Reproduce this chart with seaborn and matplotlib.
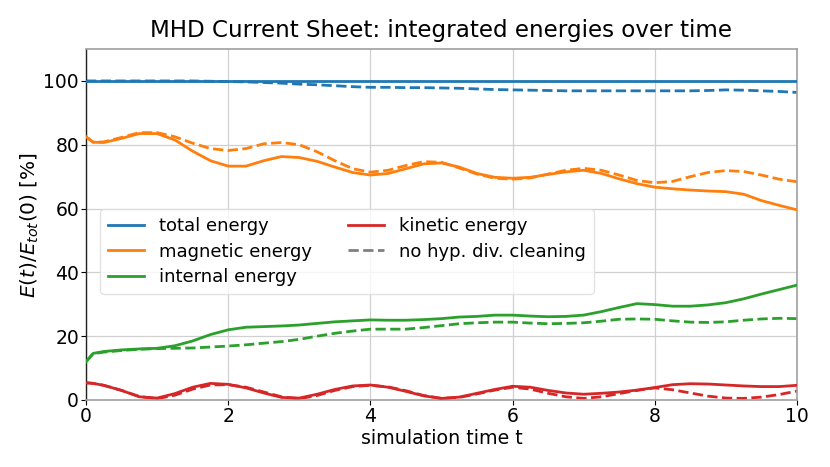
import numpy as np
import pandas as pd
import matplotlib
matplotlib.use("Agg")
import matplotlib.pyplot as plt
from matplotlib.lines import Line2D
import seaborn as sns

# ---------------- data ----------------
t = [0, 0.1, 0.25, 0.5, 0.75, 1.0, 1.25, 1.5, 1.75, 2.0, 2.25, 2.5, 2.75, 3.0,
     3.25, 3.5, 3.75, 4.0, 4.25, 4.5, 4.75, 5.0, 5.25, 5.5, 5.75, 6.0, 6.25,
     6.5, 6.75, 7.0, 7.25, 7.5, 7.75, 8.0, 8.25, 8.5, 8.75, 9.0, 9.25, 9.5,
     9.75, 10.0]

total = [100.0] * 42
total_nc = [100.0, 100.0, 100.0, 100.0, 100.0, 100.0, 100.0, 100.0, 99.9, 99.8,
            99.7, 99.5, 99.3, 99.0, 98.8, 98.5, 98.2, 98.0, 98.0, 97.9, 97.9,
            97.8, 97.7, 97.5, 97.3, 97.2, 97.1, 97.0, 96.9, 96.9, 96.9, 96.9,
            96.9, 96.9, 96.9, 96.9, 97.0, 97.2, 97.1, 96.9, 96.7, 96.4]

magnetic = [82.5, 80.8, 80.7, 82.0, 83.5, 83.5, 81.5, 78.0, 75.0, 73.3, 73.3,
            75.0, 76.3, 76.0, 74.8, 73.0, 71.3, 70.5, 71.0, 72.5, 74.0, 74.3,
            73.0, 71.0, 69.8, 69.5, 69.8, 70.7, 71.5, 72.0, 71.0, 69.3, 67.8,
            66.7, 66.2, 65.8, 65.5, 65.3, 64.5, 62.5, 61.0, 59.6]
magnetic_nc = [82.5, 80.8, 80.9, 82.3, 83.8, 83.8, 82.5, 80.5, 78.8, 78.2, 78.8,
               80.3, 80.7, 80.0, 77.8, 75.0, 72.5, 71.4, 72.0, 73.5, 74.7, 74.5,
               72.7, 70.8, 69.5, 69.2, 69.6, 70.8, 72.0, 72.6, 72.0, 70.5, 68.8,
               68.1, 68.5, 70.0, 71.3, 71.9, 71.6, 70.5, 69.2, 68.4]

internal = [12.0, 14.6, 15.2, 15.7, 16.0, 16.2, 17.0, 18.5, 20.5, 22.0, 22.8,
            23.0, 23.2, 23.5, 24.0, 24.5, 24.8, 25.1, 25.0, 25.0, 25.2, 25.5,
            26.0, 26.2, 26.6, 26.6, 26.3, 26.1, 26.2, 26.6, 27.7, 29.0, 30.2,
            29.9, 29.4, 29.4, 29.8, 30.5, 31.7, 33.2, 34.6, 36.0]
internal_nc = [12.0, 14.5, 15.0, 15.5, 15.9, 16.1, 16.2, 16.3, 16.6, 16.9, 17.3,
               17.8, 18.3, 19.0, 20.0, 20.9, 21.6, 22.2, 22.2, 22.2, 22.7, 23.3,
               23.9, 24.2, 24.4, 24.4, 24.1, 23.9, 24.0, 24.2, 24.7, 25.3, 25.4,
               25.3, 24.8, 24.4, 24.3, 24.5, 25.0, 25.4, 25.6, 25.5]

kinetic = [5.4, 5.2, 4.6, 3.0, 1.0, 0.6, 2.0, 4.0, 5.2, 4.9, 3.8, 2.2, 0.8, 0.6,
           1.8, 3.3, 4.4, 4.7, 4.0, 2.7, 1.3, 0.5, 0.9, 2.1, 3.3, 4.3, 4.0, 3.0,
           2.2, 1.8, 2.1, 2.5, 3.1, 3.9, 4.8, 5.1, 5.0, 4.7, 4.4, 4.2, 4.2, 4.6]
kinetic_nc = [5.4, 5.2, 4.6, 3.0, 1.1, 0.4, 1.5, 3.4, 4.7, 4.8, 4.0, 2.5, 1.0,
              0.4, 1.4, 3.0, 4.2, 4.6, 4.1, 2.9, 1.4, 0.5, 0.8, 1.9, 3.1, 4.0,
              3.4, 2.1, 1.0, 0.5, 1.0, 2.0, 3.0, 3.8, 3.2, 2.2, 1.2, 0.6, 0.5,
              0.9, 1.7, 2.8]

labels = ["total energy", "magnetic energy", "internal energy", "kinetic energy"]
dashed_label = "no hyp. div. cleaning"
title = "MHD Current Sheet: integrated energies over time"
xlabel = "simulation time t"
ylabel = r"$E(t)/E_{tot}(0)$ [%]"

# ---------------- plot ----------------
plt.rcParams.update({
    "font.family": ["DejaVu Sans"],
    "text.color": "black",
    "axes.labelcolor": "black",
    "xtick.color": "black",
    "ytick.color": "black",
})

colors = ["#1f77b4", "#ff7f0e", "#2ca02c", "#d62728"]
solid = [total, magnetic, internal, kinetic]
dashed = [total_nc, magnetic_nc, internal_nc, kinetic_nc]
dash = (0, (3.7, 1.6))

fig = plt.figure(figsize=(8.3, 4.67), dpi=100)
ax = fig.add_axes([0.1036, 0.1435, 0.8566, 0.7515])

for lab, col, ys, yd in zip(labels, colors, solid, dashed):
    df = pd.DataFrame({"t": t, "s": ys, "d": yd})
    sns.lineplot(data=df, x="t", y="d", ax=ax, color=col, lw=2,
                 linestyle=dash, zorder=2)
    sns.lineplot(data=df, x="t", y="s", ax=ax, color=col, lw=2, zorder=3)

ax.set_xlim(0, 10)
ax.set_ylim(0, 110)
ax.set_xticks([0, 2, 4, 6, 8, 10])
ax.set_yticks([0, 20, 40, 60, 80, 100])
ax.grid(True, color="#d0d0d0", lw=0.9)
ax.set_axisbelow(True)
ax.tick_params(labelsize=13.5, length=3.5, width=0.8, pad=1.5)
for side in ["top", "right", "bottom"]:
    ax.spines[side].set_color("#a0a0a0")
    ax.spines[side].set_linewidth(1.2)
ax.spines["left"].set_color("#222222")
ax.spines["left"].set_linewidth(1.0)

ax.set_title(title, fontsize=16.6, pad=9)
ax.set_xlabel(xlabel, fontsize=13.7, labelpad=2)
ax.set_ylabel(ylabel, fontsize=14.5, labelpad=2)

handles = [Line2D([], [], color=c, lw=2) for c in colors]
handles.append(Line2D([], [], color="gray", lw=2, linestyle=dash))
leg = ax.legend(handles, labels + [dashed_label], ncol=2, fontsize=13,
                loc="lower left", bbox_to_anchor=(0.02, 0.302),
                borderaxespad=0, frameon=True, framealpha=0.8,
                handlelength=2.0, columnspacing=2.0, labelspacing=0.4,
                borderpad=0.45)
leg.get_frame().set_edgecolor("#dddddd")

fig.savefig("out.png", dpi=100)
